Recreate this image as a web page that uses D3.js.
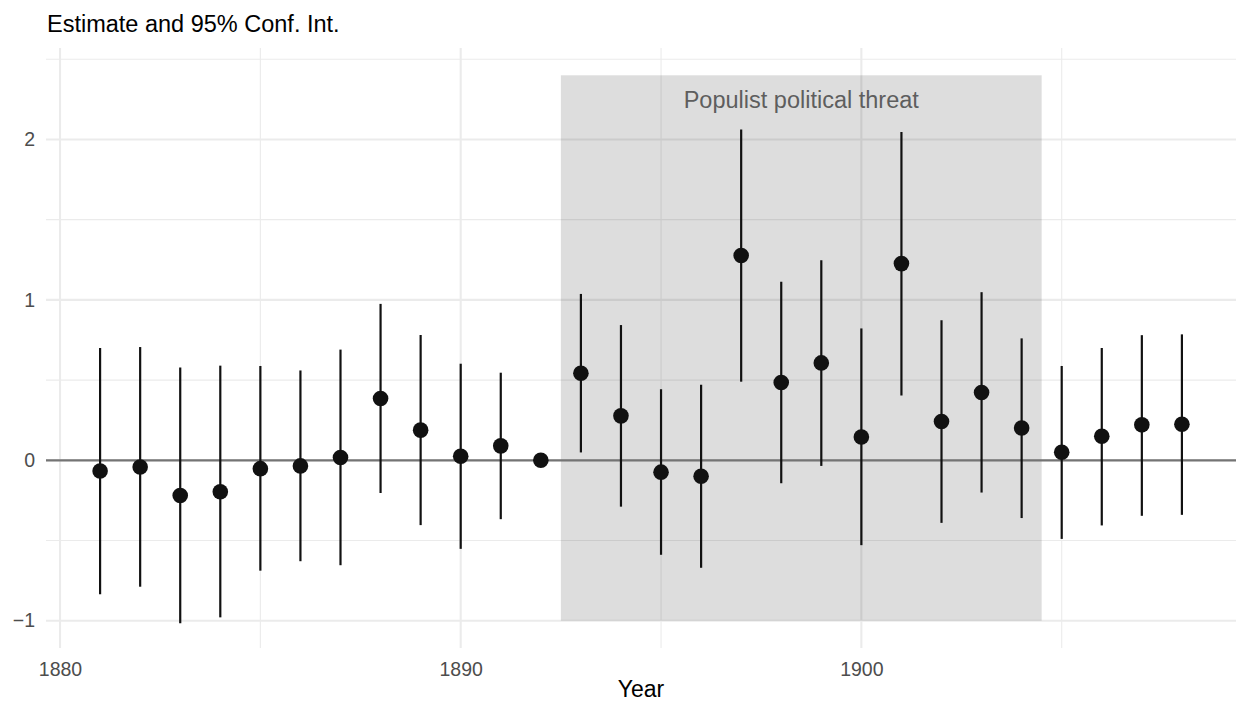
<!DOCTYPE html>
<html>
<head>
<meta charset="utf-8">
<script src="https://cdn.jsdelivr.net/npm/d3@7"></script>
<style>
  body { margin: 0; background: #fff; }
  text { font-family: "Liberation Sans", Arial, sans-serif; }
</style>
</head>
<body>
<div id="wrapper"></div>
<script>
// 1. Data

const years = [1881, 1882, 1883, 1884, 1885, 1886, 1887, 1888, 1889, 1890, 1891, 1892, 1893, 1894,
  1895, 1896, 1897, 1898, 1899, 1900, 1901, 1902, 1903, 1904, 1905, 1906, 1907, 1908]
const estimates = [-0.067, -0.042, -0.219, -0.196, -0.052, -0.035, 0.017, 0.385, 0.188, 0.025, 0.090, 0,
  0.543, 0.277, -0.074, -0.099, 1.277, 0.485, 0.607, 0.145, 1.226, 0.242, 0.423, 0.201,
  0.050, 0.150, 0.221, 0.225]
const lower = [-0.835, -0.788, -1.015, -0.979, -0.688, -0.629, -0.654, -0.204, -0.404, -0.552, -0.367, null,
  0.049, -0.289, -0.589, -0.670, 0.490, -0.143, -0.035, -0.529, 0.404, -0.390, -0.201, -0.360,
  -0.490, -0.406, -0.346, -0.340]
const upper = [0.700, 0.706, 0.579, 0.590, 0.588, 0.560, 0.690, 0.975, 0.781, 0.602, 0.546, null,
  1.037, 0.843, 0.443, 0.471, 2.062, 1.113, 1.247, 0.822, 2.046, 0.873, 1.048, 0.760,
  0.588, 0.700, 0.780, 0.785]

const xTicks = [1880, 1890, 1900]
const xMinorTicks = [1885, 1895, 1905]
const yTicks = [-1, 0, 1, 2]
const yMinorTicks = [-0.5, 0.5, 1.5, 2.5]

const threatPeriod = [1892.5, 1904.5]
const threatRange = [-1, 2.4]
const threatLabel = "Populist political threat"

const title = "Estimate and 95% Conf. Int."
const xLabel = "Year"

const dataset = years.map((year, i) => ({
  year: year,
  estimate: estimates[i],
  lower: lower[i],
  upper: upper[i],
}))

// 2. Dimensions

let dimensions = {
  width: 1238,
  height: 704,
  margin: {
    top: 48,
    right: 2,
    bottom: 56,
    left: 46,
  },
}
dimensions.boundedWidth = dimensions.width - dimensions.margin.left - dimensions.margin.right
dimensions.boundedHeight = dimensions.height - dimensions.margin.top - dimensions.margin.bottom

// 3. Canvas

const svg = d3.select("#wrapper")
  .append("svg")
    .attr("width", dimensions.width)
    .attr("height", dimensions.height)

const bounds = svg.append("g")
    .attr("transform", `translate(${dimensions.margin.left}, ${dimensions.margin.top})`)

// 4. Scales

const xScale = d3.scaleLinear()
  .domain([1879.65, 1909.35])
  .range([0, dimensions.boundedWidth])

const yScale = d3.scaleLinear()
  .domain([-1.17, 2.57])
  .range([dimensions.boundedHeight, 0])

// 5. Grid

const grid = bounds.append("g")
grid.selectAll(".x-minor")
  .data(xMinorTicks)
  .join("line")
    .attr("x1", d => xScale(d))
    .attr("x2", d => xScale(d))
    .attr("y1", 0)
    .attr("y2", dimensions.boundedHeight)
    .attr("stroke", "#ebebeb")
    .attr("stroke-width", 1.1)
grid.selectAll(".y-minor")
  .data(yMinorTicks)
  .join("line")
    .attr("x1", 0)
    .attr("x2", dimensions.boundedWidth)
    .attr("y1", d => yScale(d))
    .attr("y2", d => yScale(d))
    .attr("stroke", "#ebebeb")
    .attr("stroke-width", 1.1)
grid.selectAll(".x-major")
  .data(xTicks)
  .join("line")
    .attr("x1", d => xScale(d))
    .attr("x2", d => xScale(d))
    .attr("y1", 0)
    .attr("y2", dimensions.boundedHeight)
    .attr("stroke", "#ebebeb")
    .attr("stroke-width", 2.1)
grid.selectAll(".y-major")
  .data(yTicks)
  .join("line")
    .attr("x1", 0)
    .attr("x2", dimensions.boundedWidth)
    .attr("y1", d => yScale(d))
    .attr("y2", d => yScale(d))
    .attr("stroke", "#ebebeb")
    .attr("stroke-width", 2.1)

// shaded period
bounds.append("rect")
    .attr("x", xScale(threatPeriod[0]))
    .attr("width", xScale(threatPeriod[1]) - xScale(threatPeriod[0]))
    .attr("y", yScale(threatRange[1]))
    .attr("height", yScale(threatRange[0]) - yScale(threatRange[1]))
    .attr("fill", "#000")
    .attr("fill-opacity", 0.135)

bounds.append("text")
    .attr("x", xScale(d3.mean(threatPeriod)))
    .attr("y", yScale(2.25))
    .attr("dy", "0.35em")
    .attr("text-anchor", "middle")
    .attr("fill", "#5e5e5e")
    .style("font-size", "23.5px")
    .text(threatLabel)

// zero line
bounds.append("line")
    .attr("x1", 0)
    .attr("x2", dimensions.boundedWidth)
    .attr("y1", yScale(0))
    .attr("y2", yScale(0))
    .attr("stroke", "#747474")
    .attr("stroke-width", 2.2)

// 6. Draw data

const withCI = dataset.filter(d => d.lower != null)
bounds.append("g")
  .selectAll("line")
  .data(withCI)
  .join("line")
    .attr("x1", d => xScale(d.year))
    .attr("x2", d => xScale(d.year))
    .attr("y1", d => yScale(d.lower))
    .attr("y2", d => yScale(d.upper))
    .attr("stroke", "#111")
    .attr("stroke-width", 2.2)

bounds.append("g")
  .selectAll("circle")
  .data(dataset)
  .join("circle")
    .attr("cx", d => xScale(d.year))
    .attr("cy", d => yScale(d.estimate))
    .attr("r", 7.8)
    .attr("fill", "#111")

// 7. Peripherals

const xAxis = bounds.append("g")
    .attr("transform", `translate(0, ${dimensions.boundedHeight})`)
    .call(d3.axisBottom(xScale).tickValues(xTicks).tickFormat(d3.format("d")).tickSize(0).tickPadding(14))
xAxis.select(".domain").remove()
xAxis.selectAll("text")
    .attr("fill", "#4d4d4d")
    .style("font-size", "19.5px")
    .style("font-family", "'Liberation Sans', Arial, sans-serif")

const yAxis = bounds.append("g")
    .call(d3.axisLeft(yScale).tickValues(yTicks).tickFormat(d3.format("d")).tickSize(0).tickPadding(11))
yAxis.select(".domain").remove()
yAxis.selectAll("text")
    .attr("fill", "#4d4d4d")
    .style("font-size", "19.5px")
    .style("font-family", "'Liberation Sans', Arial, sans-serif")

bounds.append("text")
    .attr("x", dimensions.boundedWidth / 2)
    .attr("y", dimensions.boundedHeight + 49)
    .attr("text-anchor", "middle")
    .attr("fill", "#000")
    .style("font-size", "23px")
    .text(xLabel)

svg.append("text")
    .attr("x", 47)
    .attr("y", 32)
    .attr("fill", "#000")
    .style("font-size", "23.5px")
    .text(title)
</script>
</body>
</html>
